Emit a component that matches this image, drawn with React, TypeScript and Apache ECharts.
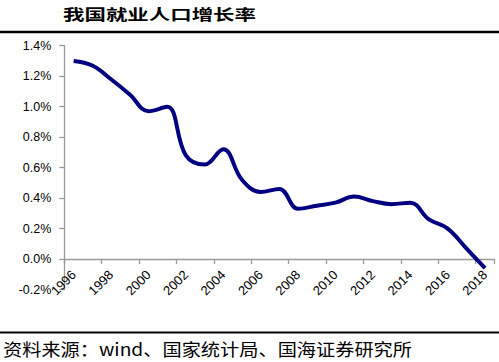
import React, { useEffect, useRef } from "react";
import * as echarts from "echarts";

const years = [
  "1996", "1997", "1998", "1999", "2000", "2001", "2002", "2003", "2004", "2005", "2006", "2007",
  "2008", "2009", "2010", "2011", "2012", "2013", "2014", "2015", "2016", "2017", "2018",
];
const growth = [
  1.30, 1.27, 1.18, 1.08, 0.97, 1.00, 0.68, 0.62, 0.72, 0.52, 0.44, 0.46,
  0.33, 0.35, 0.37, 0.41, 0.38, 0.36, 0.37, 0.26, 0.20, 0.07, -0.06,
];
const titleText = "我国就业人口增长率";
const sourceText = "资料来源：wind、国家统计局、国海证券研究所";

export default function App() {
  const ref = useRef<HTMLDivElement>(null);
  useEffect(() => {
    if (!ref.current) return;
    const chart = echarts.init(ref.current, null, { renderer: "svg" });
    chart.setOption({
      animation: false,
      backgroundColor: "#fff",
      grid: { left: 64.3, right: 4.6, top: 45.7, bottom: 72.5, containLabel: false },
      xAxis: {
        type: "category",
        data: years,
        boundaryGap: true,
        axisLine: { onZero: true, lineStyle: { color: "#9a9a9a", width: 1.3 } },
        axisTick: { show: true, interval: 1, length: 5, lineStyle: { color: "#9a9a9a", width: 1.3 } },
        axisLabel: {
          interval: 1,
          rotate: 45,
          margin: -17,
          color: "#000",
          fontSize: 13,
          fontFamily: "Liberation Sans, Arial, sans-serif",
        },
        splitLine: { show: false },
      },
      yAxis: {
        type: "value",
        min: -0.2,
        max: 1.4,
        interval: 0.2,
        axisLine: { show: true, lineStyle: { color: "#9a9a9a", width: 1.3 } },
        axisTick: { show: true, length: 5, lineStyle: { color: "#9a9a9a", width: 1.3 } },
        axisLabel: {
          margin: 13,
          color: "#000",
          fontSize: 12.5,
          fontFamily: "Liberation Sans, Arial, sans-serif",
          formatter: (v: number) => v.toFixed(1) + "%",
        },
        splitLine: { show: false },
      },
      series: [
        {
          type: "line",
          data: growth,
          smooth: 0.4,
          showSymbol: false,
          symbol: "none",
          lineStyle: { color: "#000080", width: 4 },
        },
      ],
      graphic: [
        {
          type: "text",
          x: 63,
          y: 14,
          scaleX: 1.43,
          style: {
            text: titleText,
            fontSize: 15,
            fontWeight: "bold",
            fontFamily: "Noto Sans CJK SC",
            fill: "#000",
            textVerticalAlign: "middle",
          },
        },
        {
          type: "line",
          shape: { x1: 0, y1: 32, x2: 499, y2: 32 },
          style: { stroke: "#000", lineWidth: 2.5 },
        },
        {
          type: "line",
          shape: { x1: 0, y1: 332.5, x2: 499, y2: 332.5 },
          style: { stroke: "#000", lineWidth: 2 },
        },
        {
          type: "text",
          x: 3,
          y: 349,
          scaleX: 1.13,
          style: {
            text: sourceText,
            fontSize: 17,
            fontFamily: "Noto Sans CJK SC",
            fill: "#000",
            textVerticalAlign: "middle",
          },
        },
      ],
    });
    return () => chart.dispose();
  }, []);
  return (
    <div
      ref={ref}
      style={{ position: "absolute", left: 0, top: 0, width: 499, height: 362 }}
    />
  );
}
